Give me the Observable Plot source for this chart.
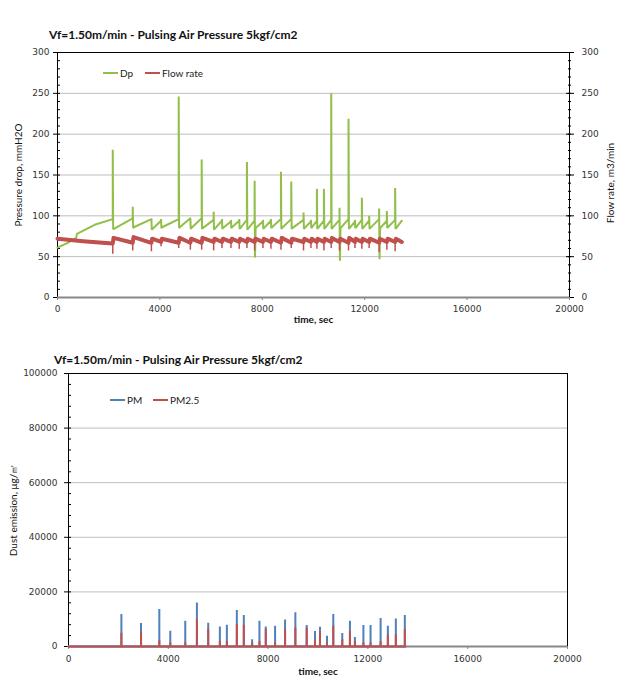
<!DOCTYPE html>
<html><head><meta charset="utf-8">
<script src="https://cdn.jsdelivr.net/npm/d3@7"></script>
<script src="https://cdn.jsdelivr.net/npm/@observablehq/plot@0.6"></script>
<style>
body{margin:0;background:#fff;}
#wrap{position:relative;width:627px;height:684px;overflow:hidden;font-family:Lato,sans-serif;background:#fff;}
.title{position:absolute;z-index:3;font-weight:bold;font-size:12px;color:#111;white-space:nowrap;line-height:16px;}
.chart{position:absolute;left:0;z-index:1;}
.leg{position:absolute;z-index:3;font-size:10px;line-height:12px;color:#222;white-space:nowrap;}
.sw{display:inline-block;width:15px;height:0;border-top:2px solid;vertical-align:middle;margin-right:2px;position:relative;top:-1px;}
</style></head><body>
<div id="wrap">
  <div class="title" style="left:49px;top:27px">Vf=1.50m/min - Pulsing Air Pressure 5kgf/cm2</div>
  <div class="chart" id="c1" style="top:40px"></div>
  <div class="leg" style="left:103px;top:67px"><span class="sw" style="border-color:#92BF4A"></span>Dp</div>
  <div class="leg" style="left:145px;top:67px"><span class="sw" style="border-color:#C0504D"></span>Flow rate</div>
  <div class="title" style="left:54px;top:352px">Vf=1.50m/min - Pulsing Air Pressure 5kgf/cm2</div>
  <div class="chart" id="c2" style="top:362px"></div>
  <div class="leg" style="left:110px;top:394px"><span class="sw" style="border-color:#4F81BD"></span>PM</div>
  <div class="leg" style="left:153px;top:394px"><span class="sw" style="border-color:#C0504D"></span>PM2.5</div>
</div>
<script>
// ---- tick values ----
const timeTicks = [0, 4000, 8000, 12000, 16000, 20000];
const dpTicks = [0, 50, 100, 150, 200, 250, 300];
const dpMinorTicks = d3.range(0, 301, 10);
const dpGrid = [50, 100, 150, 200, 250];
const dustTicks = [0, 20000, 40000, 60000, 80000, 100000];
const dustMinorTicks = d3.range(0, 100001, 4000);
const dustGrid = [20000, 40000, 60000, 80000];

// ---- Pressure drop (Dp), mmH2O ----
const dpLeadTime  = [0, 400, 730, 760, 1450];
const dpLeadValue = [61, 67, 73, 78, 89];
const pulseTime = [2159, 2939, 3668, 4045, 4735, 5190, 5632, 6100, 6425, 6775, 7100, 7400, 7700, 8025, 8337, 8729, 9131, 9611, 9900, 10133, 10407, 10692, 11016, 11368, 11620, 11889, 12174, 12564, 12865, 13189];
const dpPre  = [96, 97, 96, 94, 96, 97, 97, 95, 94, 93, 94, 95, 94, 93, 94, 96, 96, 95, 93, 94, 94, 95, 95, 96, 93, 95, 94, 96, 94, 95];
const dpPeak = [181, 111, 97, 96, 246, 97, 169, 105, 96, 95, 96, 166, 143, 95, 96, 154, 142, 104, 95, 133, 133, 250, 110, 219, 95, 122, 100, 109, 106, 134];
const dpLow  = [84, 85, 83, 85, 85, 84, 84, 83, 84, 85, 84, 83, 49, 84, 85, 84, 84, 84, 85, 84, 84, 84, 45, 84, 85, 84, 84, 47, 85, 84];
const dpPost = [84, 86, 84, 86, 86, 85, 85, 84, 85, 86, 85, 84, 85, 85, 86, 85, 85, 85, 86, 85, 85, 85, 85, 85, 86, 85, 85, 85, 86, 85];
const dpEndTime = 13450, dpEndValue = 94;

// ---- Flow rate, m3/min ----
const flowLeadTime  = [0, 1000, 2150];
const flowLeadValue = [72, 69, 66];
const flowPre  = [66, 67, 67, 68, 67, 67, 67, 68, 68, 68, 68, 68, 68, 68, 68, 67, 67, 68, 68, 68, 68, 68, 68, 67, 68, 68, 68, 67, 68, 68];
const flowDip  = [53, 57, 56, 62, 60, 58, 58, 57, 60, 60, 59, 60, 57, 60, 59, 58, 60, 57, 60, 59, 57, 60, 57, 57, 60, 59, 60, 55, 58, 56];
const flowPeak = [73, 74, 72, 72, 73, 72, 73, 72, 72, 72, 72, 72, 72, 72, 72, 73, 72, 72, 72, 72, 72, 73, 72, 73, 72, 72, 72, 72, 72, 72];
const flowEndTime = 13450, flowEndValue = 68;

// ---- Dust emission ----
const pmTime    = [2120, 2907, 3640, 4080, 4680, 5147, 5600, 6067, 6347, 6747, 7027, 7360, 7653, 7907, 8280, 8680, 9093, 9547, 9880, 10080, 10360, 10613, 10973, 11280, 11480, 11820, 12107, 12510, 12800, 13120, 13480];
const pmValue   = [11900, 8600, 13700, 5800, 9400, 16100, 8700, 7300, 8000, 13400, 11500, 2700, 9450, 7300, 7600, 9900, 12500, 7900, 5700, 7200, 3900, 11900, 4900, 9400, 3500, 7900, 7900, 10400, 7600, 10300, 11500];
const pm25Value = [5000, 5500, 2300, 1500, 1500, 10000, 6500, 2000, 2000, 8200, 8000, 1400, 2000, 6500, 1500, 6400, 7000, 7000, 2700, 5700, 1500, 7600, 2700, 5700, 2000, 1500, 1500, 2000, 4500, 4500, 6400];
const dustEndTime = 13500;

// ---- build series ----
const dpSeries = dpLeadTime.map((t, i) => ({t, v: dpLeadValue[i]}));
pulseTime.forEach((t, i) => {
  dpSeries.push({t: t - 1, v: dpPre[i]}, {t, v: dpPeak[i]}, {t: t + 15, v: dpLow[i]}, {t: t + 40, v: dpPost[i]});
});
dpSeries.push({t: dpEndTime, v: dpEndValue});

const flowSeries = flowLeadTime.map((t, i) => ({t, v: flowLeadValue[i]}));
pulseTime.forEach((t, i) => {
  flowSeries.push({t: t - 1, v: flowPre[i]}, {t: t + 30, v: flowPeak[i]});
});
flowSeries.push({t: flowEndTime, v: flowEndValue});
const flowDips = pulseTime.map((t, i) => ({t, pre: flowPre[i], dip: flowDip[i], peak: flowPeak[i]}));

function spikes(values) {
  const s = [{t: 0, v: 0}];
  pmTime.forEach((t, i) => s.push({t: t - 1, v: 0}, {t, v: values[i]}, {t: t + 1, v: 0}));
  s.push({t: dustEndTime, v: 0});
  return s;
}
const pmSeries = spikes(pmValue);
const pm25Series = spikes(pm25Value);

const tickFont = {fontFamily: "DejaVu Sans", fontSize: "9px", color: "#333", background: "transparent", overflow: "visible"};
const labelFont = {fontFamily: "Lato", fontSize: 10, fill: "#111", textAnchor: "middle"};

const c1 = Plot.plot({
  width: 627, height: 285,
  marginLeft: 57, marginRight: 58, marginTop: 12, marginBottom: 28,
  style: tickFont,
  x: {domain: [0, 20000], axis: null},
  y: {domain: [0, 300], axis: null},
  marks: [
    Plot.gridY(dpGrid, {stroke: "#bdbdbd", strokeOpacity: 1}),
    Plot.frame({stroke: "black"}),
    Plot.axisY(dpMinorTicks, {anchor: "left", tickSize: 3, dx: 3, fill: "none", label: null, stroke: "black"}),
    Plot.axisY(dpTicks, {anchor: "left", tickSize: 4, tickPadding: 4, label: null, stroke: "black", fill: "#333"}),
    Plot.axisY(dpMinorTicks, {anchor: "right", tickSize: 3, dx: -2, fill: "none", label: null, stroke: "black"}),
    Plot.axisY(dpTicks, {anchor: "right", tickSize: 4, dx: -4, fill: "none", label: null, stroke: "black"}),
    Plot.axisY(dpTicks, {anchor: "right", tickSize: 4, tickPadding: 8, label: null, stroke: "black", fill: "#333"}),
    Plot.axisX(timeTicks, {anchor: "bottom", tickSize: 3, tickPadding: 5, label: null, stroke: "#888", fill: "#333", tickFormat: d3.format("d")}),
    Plot.ruleY([0], {stroke: "#888", strokeWidth: 2}),
    Plot.line(dpSeries, {x: "t", y: "v", stroke: "#92BF4A", strokeWidth: 2, strokeLinejoin: "miter", strokeMiterlimit: 1}),
    Plot.line(flowSeries, {x: "t", y: "v", stroke: "#C0504D", strokeWidth: 4}),
    Plot.ruleX(flowDips, {x: "t", y1: "dip", y2: "peak", stroke: "#C0504D", strokeWidth: 1.5}),
    Plot.text(["Pressure drop, mmH2O"], {text: d => d, frameAnchor: "left", dx: -39, rotate: -90, ...labelFont}),
    Plot.text(["Flow rate, m3/min"], {text: d => d, frameAnchor: "right", dx: 41, dy: 8, rotate: -90, ...labelFont}),
    Plot.text(["time, sec"], {text: d => d, frameAnchor: "bottom", dy: 25, fontWeight: "bold", ...labelFont})
  ]
});
document.getElementById("c1").appendChild(c1);

const c2 = Plot.plot({
  width: 627, height: 322,
  marginLeft: 68, marginRight: 60, marginTop: 11, marginBottom: 38,
  style: tickFont,
  x: {domain: [0, 20000], axis: null},
  y: {domain: [0, 100000], axis: null},
  marks: [
    Plot.gridY(dustGrid, {stroke: "#bdbdbd", strokeOpacity: 1}),
    Plot.frame({stroke: "black"}),
    Plot.axisY(dustMinorTicks, {anchor: "left", tickSize: 3, dx: 3, fill: "none", label: null, stroke: "black"}),
    Plot.axisY(dustTicks, {anchor: "left", tickSize: 4, tickPadding: 7, label: null, stroke: "black", fill: "#333", tickFormat: d3.format("d")}),
    Plot.axisX(timeTicks, {anchor: "bottom", tickSize: 3, tickPadding: 6, label: null, stroke: "#888", fill: "#333", tickFormat: d3.format("d")}),
    Plot.ruleY([0], {stroke: "#888", strokeWidth: 2}),
    Plot.line(pmSeries, {x: "t", y: "v", stroke: "#4F81BD", strokeWidth: 2, strokeLinejoin: "miter", strokeMiterlimit: 1}),
    Plot.line(pm25Series, {x: "t", y: "v", stroke: "#C0504D", strokeWidth: 2, strokeLinejoin: "miter", strokeMiterlimit: 1}),
    Plot.text(["Dust emission, μg/㎥"], {text: d => d, frameAnchor: "left", dx: -55, rotate: -90, ...labelFont}),
    Plot.text(["time, sec"], {text: d => d, frameAnchor: "bottom", dy: 28, fontWeight: "bold", ...labelFont})
  ]
});
document.getElementById("c2").appendChild(c2);
</script>
</body></html>
